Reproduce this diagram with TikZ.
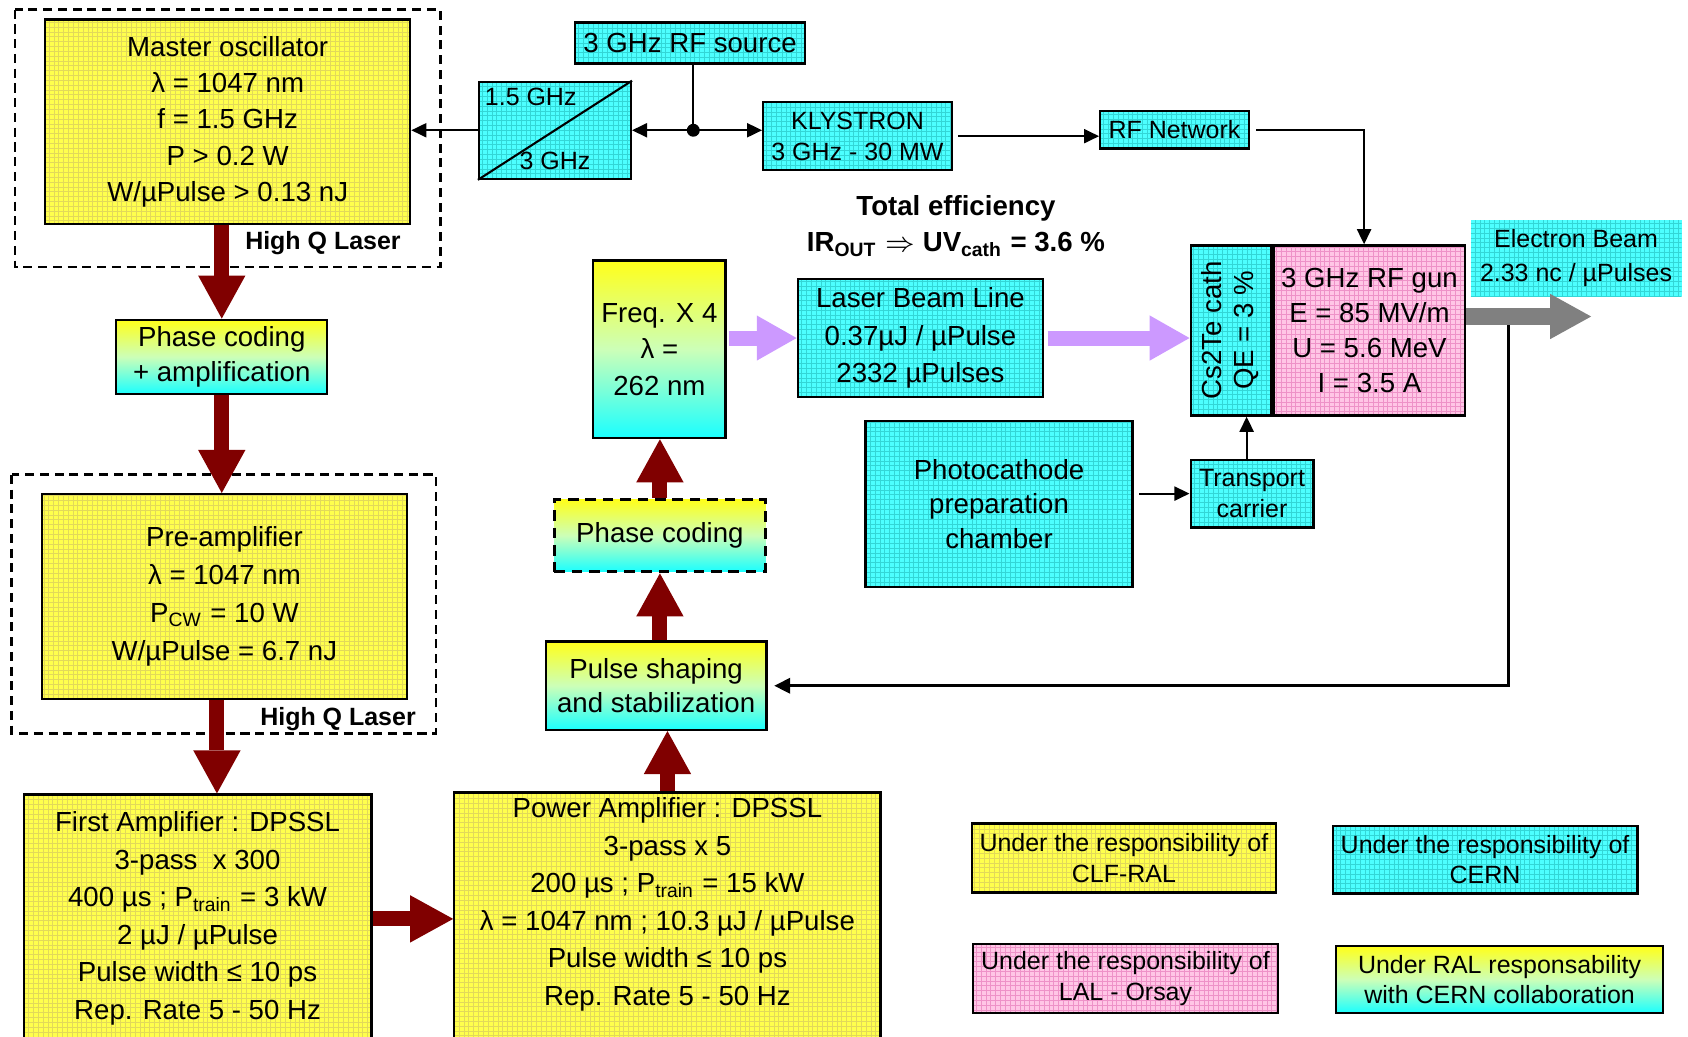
\documentclass[tikz,border=0pt]{standalone}
\usepackage{fontspec}
\setmainfont{Liberation Sans}
\usepackage{graphicx}
\usetikzlibrary{arrows.meta,positioning}

\definecolor{yfill}{HTML}{FFFF4D}
\definecolor{ygrid}{HTML}{E2D95A}
\definecolor{cfill}{HTML}{4DFFFF}
\definecolor{cgrid}{HTML}{33D6D6}
\definecolor{pfill}{HTML}{FFC6E6}
\definecolor{pgrid}{HTML}{EE92C8}
\definecolor{gtop}{HTML}{FFFF1A}
\definecolor{gmid}{HTML}{CCFFB8}
\definecolor{gbot}{HTML}{1AFFFF}
\definecolor{laserred}{HTML}{800000}
\definecolor{uvviolet}{HTML}{CC99FF}
\definecolor{beamgray}{HTML}{808080}

\newcommand{\fbig}[1]{\fontsize{7.3pt}{#1}\selectfont}
\newcommand{\fsmall}[1]{\fontsize{6.6pt}{#1}\selectfont}

\tikzset{
    gridded/.style={path picture={\draw[#1, line width=0.2pt, step=0.045]
        (path picture bounding box.south west) grid (path picture bounding box.north east);}},
    blk/.style={draw=black, line width=0.6pt, inner sep=0pt, align=center, font=\fbig{9.6pt}},
    ybox/.style={blk, fill=yfill, gridded=ygrid},
    cbox/.style={blk, fill=cfill, gridded=cgrid},
    pbox/.style={blk, fill=pfill, gridded=pgrid},
    gbox/.style={blk, top color=gtop, bottom color=gbot, middle color=gmid},
    phdash/.style={line width=0.9pt, dash pattern=on 2.8pt off 1.8pt},
    hqframe/.style={draw=black, line width=0.75pt, dash pattern=on 2.4pt off 1.5pt},
    hqlabel/.style={font=\bfseries\fsmall{8pt}, inner sep=0pt},
    conn/.style={draw=black, line width=0.55pt},
    arr/.style={conn, -{Triangle[length=0.14cm,width=0.13cm]}},
    fbline/.style={draw=black, line width=0.9pt, -{Triangle[length=0.15cm,width=0.14cm]}},
    redarrow/.style={draw=laserred, line width=0.14cm, -{Triangle[length=0.40cm,width=0.44cm,line width=0pt]}},
    violetarrow/.style={draw=uvviolet, line width=0.14cm, -{Triangle[length=0.37cm,width=0.42cm,line width=0pt]}},
    grayarrow/.style={draw=beamgray, line width=0.15cm, -{Triangle[length=0.38cm,width=0.42cm,line width=0pt]}}
}

\begin{document}
\begin{tikzpicture}[
    font=\fbig{9.6pt}
]
\useasboundingbox (0,0) rectangle (15.68,9.63);
\clip (0,0) rectangle (15.68,9.63);

% High Q laser frames
\draw [hqframe] (0.14,9.54) rectangle (4.09,7.15);
\draw [hqframe] (0.11,5.22) rectangle (4.05,2.82);

% Laser chain, left column
\node (mosc) at (2.115,8.50) [ybox, minimum width=3.39cm, minimum height=1.90cm] {Master oscillator\\λ = 1047 nm\\f = 1.5 GHz\\P > 0.2 W\\W/µPulse > 0.13 nJ};
\node (hq1) at (3.00,7.37) [hqlabel] {High Q Laser};
\node (pcamp) at (2.06,6.315) [gbox, minimum width=1.96cm, minimum height=0.69cm, font=\fbig{9.1pt}] {Phase coding\\+ amplification};
\node (preamp) at (2.085,4.09) [ybox, minimum width=3.39cm, minimum height=1.90cm, font=\fbig{10pt}] {Pre-amplifier\\λ = 1047 nm\\P\textsubscript{CW} = 10 W\\W/µPulse = 6.7 nJ};
\node (hq2) at (3.14,2.95) [hqlabel] {High Q Laser};
\node (famp) at (1.835,2.26) [ybox, anchor=north, font=\fbig{9.9pt}] {\parbox[c][2.31cm][t]{3.23cm}{\centering\vspace*{0.16cm}First Amplifier : DPSSL\\3-pass\ \ x 300\\400 µs ; P\textsubscript{train} = 3 kW\\2 µJ / µPulse\\Pulse width ≤ 10 ps\\Rep. Rate 5 - 50 Hz}};
\node (pamp) at (6.20,2.28) [ybox, anchor=north, font=\fbig{9.9pt}] {\parbox[c][2.33cm][t]{3.96cm}{\centering\vspace*{0.05cm}Power Amplifier : DPSSL\\3-pass x 5\\200 µs ; P\textsubscript{train} = 15 kW\\λ = 1047 nm ; 10.3 µJ / µPulse\\Pulse width ≤ 10 ps\\Rep. Rate 5 - 50 Hz}};

% Laser chain, middle column
\node (pshape) at (6.095,3.26) [gbox, minimum width=2.05cm, minimum height=0.82cm, font=\fbig{9.1pt}] {Pulse shaping\\and stabilization};
\node (phc) at (6.13,4.655) [gbox, phdash, minimum width=1.96cm, minimum height=0.67cm] {Phase coding};
\node (freq) at (6.125,6.385) [gbox, minimum width=1.23cm, minimum height=1.65cm, font=\fbig{9.7pt}] {Freq. X 4\\λ =\\262 nm};

% RF distribution
\node (divb) at (5.155,8.42) [cbox, minimum width=1.41cm, minimum height=0.90cm] {};
\draw [conn] (divb.south west) -- (divb.north east);
\node (div15) at (4.93,8.73) [font=\fsmall{8pt}] {1.5 GHz};
\node (div3) at (5.155,8.14) [font=\fsmall{8pt}] {3 GHz};
\node (rfsrc) at (6.41,9.23) [cbox, minimum width=2.14cm, minimum height=0.38cm] {3 GHz RF source};
\node (jct) at (6.44,8.42) [circle, fill=black, inner sep=0pt, minimum size=0.12cm] {};
\node (klys) at (7.965,8.365) [cbox, minimum width=1.75cm, minimum height=0.63cm, font=\fsmall{8.25pt}] {KLYSTRON\\3 GHz - 30 MW};
\node (rfnet) at (10.91,8.425) [cbox, minimum width=1.38cm, minimum height=0.35cm, font=\fsmall{8pt}] {RF Network};

% Gun and beam line
\node (teff) at (8.88,7.53) [align=center, font=\bfseries\fbig{9.7pt}] {Total efficiency\\IR\textsubscript{OUT} $\Rightarrow$ UV\textsubscript{cath} = 3.6 \%};
\node (lbl) at (8.55,6.49) [cbox, minimum width=2.28cm, minimum height=1.10cm, font=\fbig{9.95pt}] {Laser Beam Line\\0.37µJ / µPulse\\2332 µPulses};
\node (cath) at (11.435,6.56) [cbox, minimum width=0.75cm, minimum height=1.58cm, font=\fbig{8.6pt}] {\rotatebox{90}{\begin{tabular}{@{}c@{}}Cs2Te cath\\QE = 3 \%\end{tabular}}};
\node (gun) [pbox, right=0pt of cath, minimum width=1.78cm, minimum height=1.58cm, font=\fbig{9.2pt}] {3 GHz RF gun\\E = 85 MV/m\\U = 5.6 MeV\\I = 3.5 A};
\node (ebeam) at (14.64,7.235) [cbox, draw=none, minimum width=1.96cm, minimum height=0.71cm, font=\fsmall{9.1pt}] {Electron Beam\\2.33 nc / µPulses};
\node (pcc) at (9.28,4.95) [cbox, minimum width=2.48cm, minimum height=1.54cm, font=\fbig{9.1pt}] {Photocathode\\preparation\\chamber};
\node (tcar) at (11.63,5.045) [cbox, minimum width=1.14cm, minimum height=0.63cm, font=\fsmall{8pt}] {Transport\\carrier};

% Legend
\node (lgclf) at (10.44,1.66) [ybox, minimum width=2.82cm, minimum height=0.64cm, font=\fsmall{8.1pt}] {Under the responsibility of\\CLF-RAL};
\node (lgcern) at (13.795,1.645) [cbox, minimum width=2.83cm, minimum height=0.63cm, font=\fsmall{8.1pt}] {Under the responsibility of\\CERN};
\node (lglal) at (10.455,0.54) [pbox, minimum width=2.83cm, minimum height=0.64cm, font=\fsmall{8.1pt}] {Under the responsibility of\\LAL - Orsay};
\node (lgral) at (13.93,0.53) [gbox, minimum width=3.04cm, minimum height=0.62cm, font=\fsmall{8.1pt}] {Under RAL responsability\\with CERN collaboration};

% RF connectors
\draw [conn] (jct.center |- rfsrc.south) -- (jct.center);
\draw [arr] (jct.center) -- (divb.east);
\draw [arr] (jct.center) -- (jct.center -| klys.west);
\draw [arr] (divb.west) -- (divb.west -| mosc.east);
\draw [arr, shorten <=0.05cm] (klys.east) -- (klys.east -| rfnet.west);
\coordinate (gunin) at ([xshift=-0.05cm]gun.north);
\draw [arr, shorten <=0.06cm] (rfnet.east) -- (gunin |- rfnet.east) -- (gunin);

% Cathode transport
\draw [arr, shorten <=0.05cm] (pcc.east |- tcar.west) -- (tcar.west);
\coordinate (tup) at ([xshift=-0.05cm]tcar.north);
\draw [arr] (tup) -- (tup |- cath.south);

% Feedback from the beam
\coordinate (eout) at (14.78,6.69);
\coordinate (fbtop) at (14.01,6.62);
\draw [fbline, shorten >=0.06cm] (fbtop) -- (fbtop |- pshape.east) -- (pshape.east);
\draw [grayarrow] (gun.east |- eout) -- (eout);

% UV laser beam
\draw [violetarrow, shorten <=0.02cm] (freq.east |- lbl.west) -- (lbl.west);
\draw [violetarrow, shorten <=0.03cm] (lbl.east) -- (lbl.east -| cath.west);

% IR laser beam
\draw [redarrow] (pcamp.north |- mosc.south) -- (pcamp.north);
\draw [redarrow] (pcamp.south) -- (pcamp.south |- preamp.north);
\coordinate (preout) at ([xshift=-0.07cm]preamp.south);
\draw [redarrow] (preout) -- (preout |- famp.north);
\draw [redarrow] (famp.east) -- (famp.east -| pamp.west);
\draw [redarrow] (pamp.north) -- (pamp.north |- pshape.south);
\draw [redarrow] (phc.south |- pshape.north) -- (phc.south);
\draw [redarrow] (phc.north) -- (phc.north |- freq.south);

\end{tikzpicture}
\end{document}
